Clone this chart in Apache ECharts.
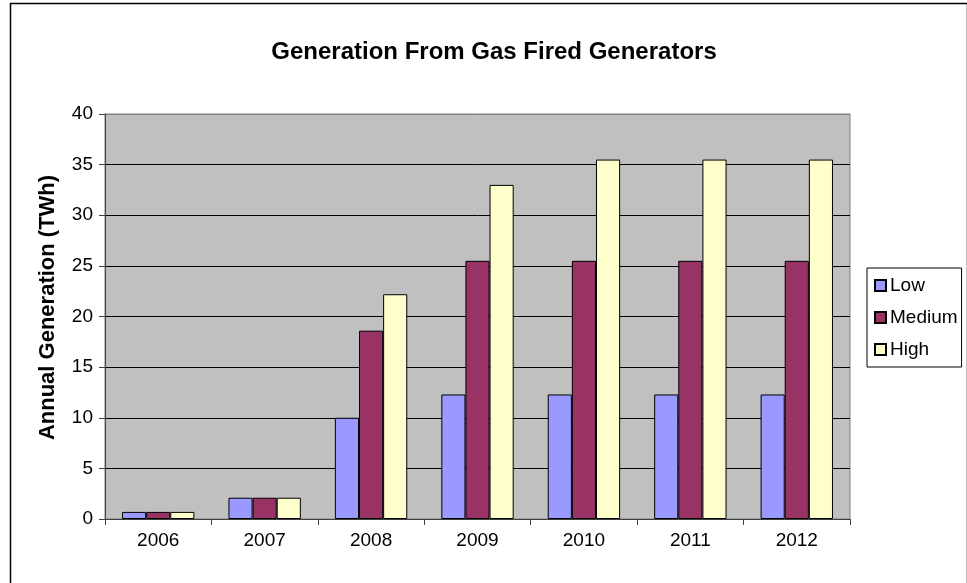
<!DOCTYPE html>
<html>
<head>
<meta charset="utf-8">
<title>Generation From Gas Fired Generators</title>
<script src="https://cdn.jsdelivr.net/npm/echarts@6/dist/echarts.min.js"></script>
<style>
  html, body { margin: 0; padding: 0; background: #fff; }
  #chart { width: 967px; height: 583px; }
</style>
</head>
<body>
<div id="chart"></div>
<script>
// 数据
const years = ["2006", "2007", "2008", "2009", "2010", "2011", "2012"];
const low = [0.7, 2.1, 10.0, 12.3, 12.3, 12.3, 12.3];
const medium = [0.7, 2.1, 18.6, 25.5, 25.5, 25.5, 25.5];
const high = [0.7, 2.1, 22.2, 33.0, 35.5, 35.5, 35.5];

const font = "'Liberation Sans', Arial, sans-serif";

const makeSeries = (name, data, color) => ({
  name,
  type: "bar",
  data,
  barGap: "0%",
  barCategoryGap: "32%",
  itemStyle: { color, borderColor: "#000", borderWidth: 1 },
  emphasis: { disabled: true },
});

const chart = echarts.init(document.getElementById("chart"));
chart.setOption({
  animation: false,
  textStyle: { fontFamily: font, color: "#000" },
  title: {
    text: "Generation From Gas Fired Generators",
    left: 489,
    textAlign: "center",
    top: 35,
    textStyle: { fontFamily: font, fontSize: 24, fontWeight: "bold", color: "#000" },
  },
  legend: {
    orient: "vertical",
    left: 867,
    top: 268,
    padding: [8, 4, 8, 7],
    itemWidth: 11,
    itemHeight: 11,
    itemGap: 13,
    borderColor: "#000",
    borderWidth: 1,
    icon: "rect",
    textStyle: { fontFamily: font, fontSize: 19, color: "#000", padding: [0, 0, 0, -1] },
    data: ["Low", "Medium", "High"],
  },
  grid: {
    left: 105,
    top: 114,
    right: 117,
    bottom: 64,
    show: true,
    backgroundColor: "#c0c0c0",
    borderColor: "#808080",
    borderWidth: 1,
  },
  xAxis: {
    type: "category",
    data: years,
    axisLine: { lineStyle: { color: "#404040" } },
    axisTick: { show: true, inside: false, length: 6, alignWithLabel: false, lineStyle: { color: "#404040" } },
    axisLabel: { fontFamily: font, fontSize: 19, color: "#000", margin: 12 },
    splitLine: { show: false },
  },
  yAxis: {
    type: "value",
    min: 0,
    max: 40,
    interval: 5,
    name: "Annual Generation (TWh)",
    nameLocation: "middle",
    nameGap: 46,
    nameTextStyle: { fontFamily: font, fontSize: 22, fontWeight: "bold", color: "#000", padding: [0, 0, 0, 18] },
    axisLine: { show: true, lineStyle: { color: "#404040" } },
    axisTick: { show: true, inside: false, length: 6, lineStyle: { color: "#404040" } },
    axisLabel: { fontFamily: font, fontSize: 19, color: "#000", margin: 12 },
    splitLine: {
      show: true,
      lineStyle: {
        color: ["#000", "#000", "#000", "#000", "#000", "#000", "#000", "#000", "#808080"],
        width: 1,
      },
    },
  },
  graphic: [
    {
      type: "rect",
      left: 8,
      top: 1,
      shape: { width: 957, height: 620 },
      style: { fill: "none", stroke: "#000", lineWidth: 1.5 },
      silent: true,
      z: 100,
    },
  ],
  series: [
    makeSeries("Low", low, "#9999ff"),
    makeSeries("Medium", medium, "#993366"),
    makeSeries("High", high, "#ffffcc"),
  ],
});
</script>
</body>
</html>
